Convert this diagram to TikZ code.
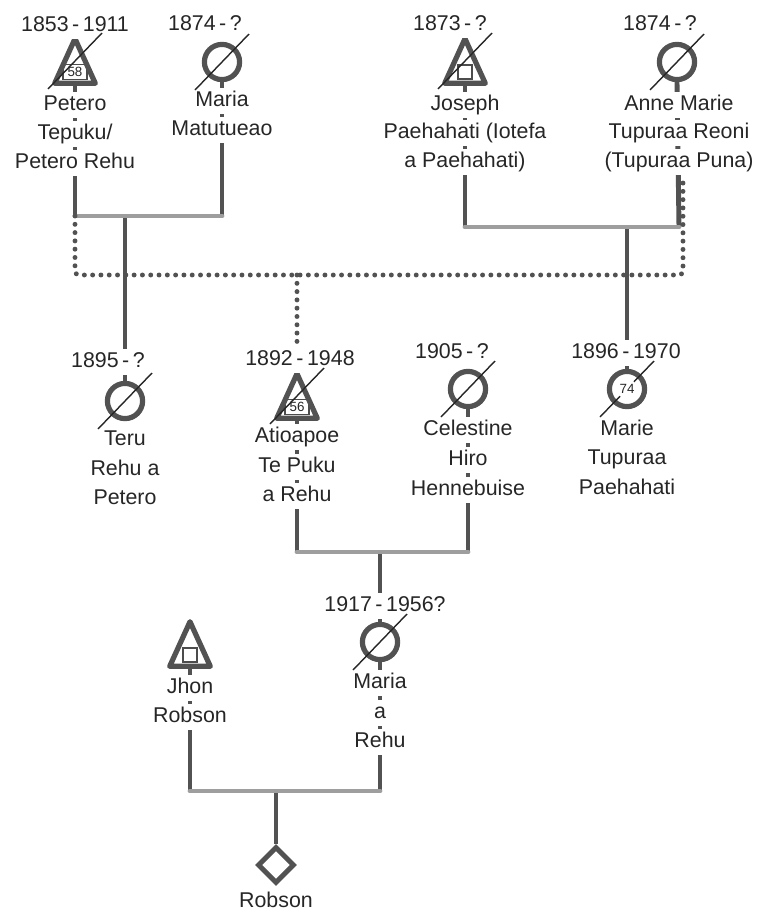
\documentclass[tikz,border=0pt]{standalone}
\usepackage{fontspec}
\setmainfont{Liberation Sans}
\usetikzlibrary{calc,shapes.geometric,backgrounds}

\begin{document}
\begin{tikzpicture}[
  x=0.025cm, y=-0.025cm,
  stem/.style    = {line width=3.5pt, draw=black!68},
  couple/.style  = {line width=3.5pt, draw=black!38, line cap=round},
  dotline/.style = {line width=3.5pt, draw=black!68, line cap=round,
                    dash pattern=on 0pt off 5.9pt, rounded corners=3pt},
  fem/.style     = {circle, draw=black!68, line width=3.7pt, minimum size=0.88cm, inner sep=0pt},
  masc/.style    = {rectangle, minimum width=1cm, minimum height=1.1cm, inner sep=0pt},
  tri/.style     = {draw=black!68, line width=3.7pt, line join=round},
  unk/.style     = {diamond, aspect=1, draw=black!68, line width=3.5pt, minimum size=0.92cm, inner sep=0pt},
  slash/.style   = {line width=1pt, black!85},
  txt/.style     = {font=\fontsize{15.2}{18}\selectfont, text=black!85, fill=white,
                    inner xsep=1pt, inner ysep=1pt, text height=12pt, text depth=4pt},
  age/.style     = {draw=black!70, line width=0.9pt, fill=white, text=black!85,
                    font=\fontsize{9.5}{10}\selectfont, minimum width=0.6cm,
                    minimum height=0.36cm, inner sep=0pt},
  sq/.style      = {draw=black!70, line width=1pt, minimum size=0.35cm, inner sep=0pt},
]
\useasboundingbox (0,0) rectangle (759,915);

%% symbols
\node[masc] (petero)    at (75,61)   {};
\node[fem]  (maria1)    at (222,62)  {};
\node[masc] (joseph)    at (465,61)  {};
\node[fem]  (anne)      at (677,62)  {};
\node[fem]  (teru)      at (125,401) {};
\node[masc] (atioapoe)  at (297,396) {};
\node[fem]  (celestine) at (468,389) {};
\node[fem]  (marie)     at (627,389) {};
\node[masc] (jhon)      at (190,644) {};
\node[fem]  (maria2)    at (380,642) {};
\node[unk]  (robson)    at (276,865) {};

%% marks inside the triangles
\node[age] (petero-age)   at ($(petero)+(0,11)$)   {58};
\node[age] (atioapoe-age) at ($(atioapoe)+(0,11)$) {56};
\node[sq]  (joseph-sq)    at ($(joseph)+(0,11)$)   {};
\node[sq]  (jhon-sq)      at ($(jhon)+(0,11)$)     {};

\foreach \m in {petero,joseph,atioapoe,jhon}
  \draw[tri] (\m.south west) -- (\m.north) -- (\m.south east) -- cycle;

%% years
\node[txt] (petero-yr)    at (75,26)   {1853\,-\,1911};
\node[txt] (maria1-yr)    at (205,25)  {1874\,-\,?};
\node[txt] (joseph-yr)    at (450,25)  {1873\,-\,?};
\node[txt] (anne-yr)      at (660,25)  {1874\,-\,?};
\node[txt] (teru-yr)      at (108,362) {1895\,-\,?};
\node[txt] (atioapoe-yr)  at (300,360) {1892\,-\,1948};
\node[txt] (celestine-yr) at (452,353) {1905\,-\,?};
\node[txt] (marie-yr)     at (626,353) {1896\,-\,1970};
\node[txt] (maria2-yr)    at (385,606) {1917\,-\,1956?};

%% names
\node[txt] (petero-1) at (75,105) {Petero};
\node[txt] (petero-2) at (75,134) {Tepuku/};
\node[txt] (petero-3) at (75,163) {Petero Rehu};
\node[txt] (maria1-1) at (222,101) {Maria};
\node[txt] (maria1-2) at (222,130) {Matutueao};
\node[txt] (joseph-1) at (465,105) {Joseph};
\node[txt] (joseph-2) at (465,133) {Paehahati (Iotefa};
\node[txt] (joseph-3) at (465,162) {a Paehahati)};
\node[txt] (anne-1)   at (679,105) {Anne Marie};
\node[txt] (anne-2)   at (679,133) {Tupuraa Reoni};
\node[txt] (anne-3)   at (679,162) {(Tupuraa Puna)};

\node[txt] (teru-1)      at (125,440) {Teru};
\node[txt] (teru-2)      at (125,470) {Rehu a};
\node[txt] (teru-3)      at (125,499) {Petero};
\node[txt] (atioapoe-1)  at (297,437) {Atioapoe};
\node[txt] (atioapoe-2)  at (297,467) {Te Puku};
\node[txt] (atioapoe-3)  at (297,496) {a Rehu};
\node[txt] (celestine-1) at (468,430) {Celestine};
\node[txt] (celestine-2) at (468,460) {Hiro};
\node[txt] (celestine-3) at (468,490) {Hennebuise};
\node[txt] (marie-1)     at (627,430) {Marie};
\node[txt] (marie-2)     at (627,459) {Tupuraa};
\node[txt] (marie-3)     at (627,489) {Paehahati};

\node[txt] (jhon-1)   at (190,688) {Jhon};
\node[txt] (jhon-2)   at (190,717) {Robson};
\node[txt] (maria2-1) at (380,683) {Maria};
\node[txt] (maria2-2) at (380,713) {a};
\node[txt] (maria2-3) at (380,742) {Rehu};
\node[txt] (robson-1) at (276,902) {Robson};

%% deceased
\foreach \p in {petero,maria1,joseph,anne,teru,atioapoe,celestine,marie,maria2}
  \draw[slash] ($(\p)+(-27,28)$) -- ($(\p)+(27,-28)$);
\node[circle, fill=white, inner sep=0pt, minimum size=0.5cm, text=black!85,
      font=\fontsize{9.5}{10}\selectfont] (marie-age) at (marie) {74};

%% lines of descent
\coordinate (pm-l) at (75,216);
\coordinate (pm-r) at (222,216);
\coordinate (pm-c) at (125,216);
\coordinate (ja-l) at (465,227);
\coordinate (ja-r) at (679,227);
\coordinate (ja-c) at (627,227);
\coordinate (ac-l) at (297,552);
\coordinate (ac-r) at (468,552);
\coordinate (ac-c) at (380,552);
\coordinate (jm-l) at (190,791);
\coordinate (jm-r) at (380,791);
\coordinate (jm-c) at (276,791);
\coordinate (dot-bl) at (75,275);
\coordinate (dot-br) at (683,275);
\coordinate (dot-tr) at (683,178);
\coordinate (dot-c)  at (297,275);

\begin{scope}[on background layer]
  \draw[stem] (petero.south) -- (pm-l);
  \draw[stem] (maria1.south) -- (pm-r);
  \draw[stem] (joseph.south) -- (ja-l);
  \draw[stem] (anne.south) -- (ja-r);
  \draw[stem] (atioapoe.south) -- (ac-l);
  \draw[stem] (celestine.south) -- (ac-r);
  \draw[stem] (jhon.south) -- (jm-l);
  \draw[stem] (maria2.south) -- (jm-r);
  \draw[stem] (pm-c) -- (teru.north);
  \draw[stem] (ja-c) -- (marie.north);
  \draw[stem] (ac-c) -- (maria2.north);
  \draw[stem] (jm-c) -- (robson.north);
  \draw[couple] (pm-l) -- (pm-r);
  \draw[couple] (ja-l) -- (ja-r);
  \draw[couple] (ac-l) -- (ac-r);
  \draw[couple] (jm-l) -- (jm-r);
  \draw[dotline] (pm-l) -- (dot-bl) -- (dot-br) -- (dot-tr);
  \draw[dotline] (dot-c) -- (atioapoe.north);
\end{scope}

\end{tikzpicture}
\end{document}
